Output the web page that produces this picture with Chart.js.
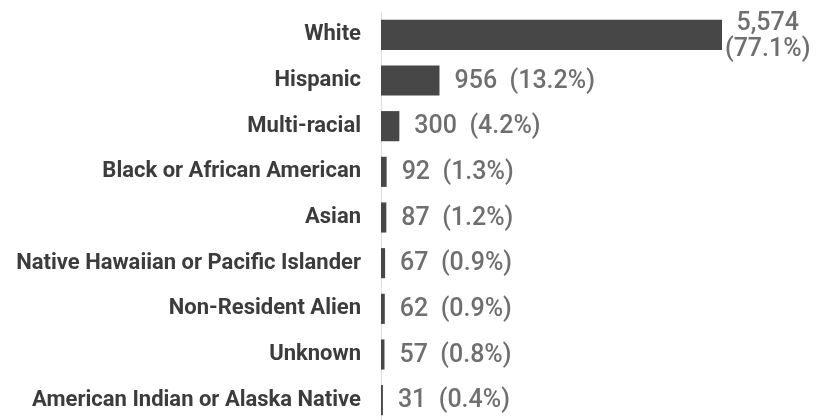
<!DOCTYPE html>
<html>
<head>
<meta charset="utf-8">
<script src="https://cdn.jsdelivr.net/npm/chart.js@4.4.0/dist/chart.umd.min.js"></script>
<style>
  html, body { margin: 0; padding: 0; background: #ffffff; overflow: hidden; }
  #wrap { width: 820px; height: 425px; position: relative; }
</style>
</head>
<body>
<div id="wrap"><canvas id="c"></canvas></div>
<script>
const categories = [
  "White",
  "Hispanic",
  "Multi-racial",
  "Black or African American",
  "Asian",
  "Native Hawaiian or Pacific Islander",
  "Non-Resident Alien",
  "Unknown",
  "American Indian or Alaska Native"
];
const counts = [5574, 956, 300, 92, 87, 67, 62, 57, 31];
const percents = [77.1, 13.2, 4.2, 1.3, 1.2, 0.9, 0.9, 0.8, 0.4];

const FONT = "Roboto, 'Liberation Sans', sans-serif";

const valueLabels = {
  id: 'valueLabels',
  afterDatasetsDraw(chart) {
    const ctx = chart.ctx;
    const meta = chart.getDatasetMeta(0);
    ctx.save();
    ctx.font = "500 25px " + FONT;
    ctx.fillStyle = "#6f6f6f";
    ctx.textBaseline = "middle";
    meta.data.forEach((bar, i) => {
      const num = counts[i].toLocaleString('en-US');
      const pct = '(' + percents[i].toFixed(1) + '%)';
      const one = num + '  ' + pct;
      const w = ctx.measureText(one).width;
      const x0 = bar.x + 15;
      if (x0 + w <= chart.width - 4) {
        ctx.textAlign = "left";
        ctx.fillText(one, x0, bar.y + 1);
      } else {
        const w2 = Math.max(ctx.measureText(num).width, ctx.measureText(pct).width);
        const cx = bar.x + 3 + w2 / 2;
        ctx.textAlign = "center";
        ctx.fillText(num, cx, bar.y - 11);
        ctx.fillText(pct, cx, bar.y + 15);
      }
    });
    ctx.restore();
  }
};

new Chart(document.getElementById('c'), {
  type: 'bar',
  data: {
    labels: categories,
    datasets: [{
      data: counts,
      backgroundColor: '#474747',
      borderWidth: 0,
      barPercentage: 0.66,
      categoryPercentage: 1.0
    }]
  },
  options: {
    indexAxis: 'y',
    responsive: true,
    maintainAspectRatio: false,
    animation: false,
    layout: { padding: { top: 12, right: 98, bottom: 2, left: 0 } },
    plugins: {
      legend: { display: false },
      tooltip: { enabled: false }
    },
    scales: {
      x: {
        display: false,
        min: 0,
        max: 5574
      },
      y: {
        grid: { display: false, drawTicks: true, tickLength: 20 },
        border: { display: true, color: '#dddddd', width: 1 },
        ticks: {
          padding: 0,
          color: '#3c3c3c',
          font: { family: FONT, size: 22, weight: 'bold', lineHeight: 0.05 }
        },
        afterFit(scale) { scale.width = 381; }
      }
    }
  },
  plugins: [valueLabels]
});
</script>
</body>
</html>
